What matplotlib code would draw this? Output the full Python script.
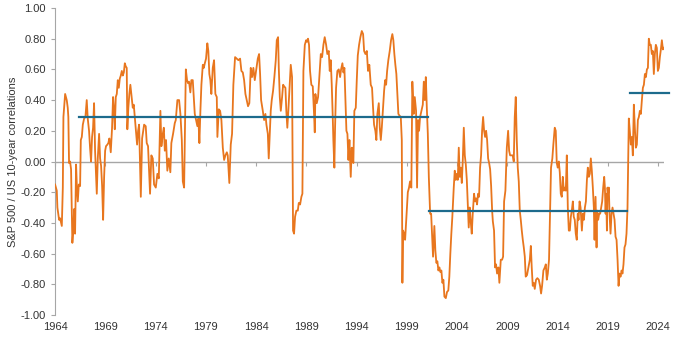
import matplotlib.pyplot as plt
from matplotlib.ticker import FormatStrFormatter

# rolling S&P 500 / US 10-year correlation (decimal year, value)
years = [
    1964.00, 1964.17, 1964.23, 1964.40, 1964.50, 1964.67, 1964.77, 1964.83, 1965.00, 1965.16,
    1965.26, 1965.32, 1965.39, 1965.49, 1965.59, 1965.72, 1965.82, 1965.89, 1965.99, 1966.09,
    1966.16, 1966.26, 1966.36, 1966.49, 1966.56, 1966.66, 1966.76, 1966.89, 1967.02, 1967.15,
    1967.25, 1967.38, 1967.48, 1967.58, 1967.68, 1967.78, 1967.88, 1967.98, 1968.08, 1968.15,
    1968.25, 1968.38, 1968.48, 1968.58, 1968.68, 1968.78, 1968.88, 1968.98, 1969.07, 1969.20,
    1969.30, 1969.40, 1969.54, 1969.67, 1969.77, 1969.87, 1969.94, 1970.04, 1970.14, 1970.24,
    1970.34, 1970.44, 1970.54, 1970.64, 1970.74, 1970.84, 1970.94, 1971.03, 1971.13, 1971.19,
    1971.29, 1971.39, 1971.49, 1971.59, 1971.73, 1971.83, 1971.96, 1972.06, 1972.16, 1972.26,
    1972.36, 1972.53, 1972.66, 1972.86, 1973.02, 1973.12, 1973.25, 1973.45, 1973.58, 1973.72,
    1973.85, 1974.02, 1974.18, 1974.32, 1974.48, 1974.58, 1974.72, 1974.82, 1974.92, 1975.04,
    1975.17, 1975.31, 1975.47, 1975.57, 1975.74, 1975.91, 1976.01, 1976.17, 1976.34, 1976.47,
    1976.61, 1976.71, 1976.84, 1977.01, 1977.13, 1977.23, 1977.33, 1977.46, 1977.56, 1977.70,
    1977.80, 1977.90, 1978.03, 1978.16, 1978.26, 1978.36, 1978.46, 1978.56, 1978.70, 1978.80,
    1978.90, 1979.02, 1979.15, 1979.25, 1979.35, 1979.45, 1979.55, 1979.69, 1979.82, 1979.95,
    1980.09, 1980.15, 1980.29, 1980.42, 1980.55, 1980.69, 1980.82, 1980.95, 1981.09, 1981.18,
    1981.34, 1981.48, 1981.61, 1981.74, 1981.91, 1982.08, 1982.24, 1982.41, 1982.54, 1982.68,
    1982.81, 1982.94, 1983.07, 1983.20, 1983.33, 1983.47, 1983.60, 1983.73, 1983.87, 1984.00,
    1984.17, 1984.30, 1984.40, 1984.50, 1984.67, 1984.80, 1984.93, 1985.03, 1985.17, 1985.26,
    1985.36, 1985.46, 1985.56, 1985.69, 1985.82, 1985.96, 1986.06, 1986.19, 1986.26, 1986.36,
    1986.46, 1986.59, 1986.69, 1986.79, 1986.92, 1987.01, 1987.11, 1987.21, 1987.35, 1987.45,
    1987.58, 1987.68, 1987.78, 1987.88, 1988.01, 1988.15, 1988.25, 1988.38, 1988.51, 1988.61,
    1988.71, 1988.85, 1988.98, 1989.07, 1989.17, 1989.27, 1989.37, 1989.50, 1989.64, 1989.77,
    1989.84, 1989.90, 1990.04, 1990.17, 1990.30, 1990.44, 1990.57, 1990.70, 1990.83, 1990.97,
    1991.09, 1991.23, 1991.33, 1991.43, 1991.53, 1991.63, 1991.69, 1991.79, 1991.86, 1991.96,
    1992.09, 1992.23, 1992.36, 1992.46, 1992.59, 1992.69, 1992.79, 1992.89, 1992.99, 1993.09,
    1993.19, 1993.29, 1993.42, 1993.52, 1993.62, 1993.68, 1993.78, 1993.92, 1994.02, 1994.12,
    1994.25, 1994.38, 1994.52, 1994.65, 1994.75, 1994.88, 1995.02, 1995.14, 1995.27, 1995.41,
    1995.54, 1995.64, 1995.74, 1995.87, 1995.97, 1996.07, 1996.21, 1996.31, 1996.41, 1996.51,
    1996.64, 1996.74, 1996.84, 1996.94, 1997.04, 1997.16, 1997.30, 1997.43, 1997.56, 1997.66,
    1997.76, 1997.86, 1997.96, 1998.06, 1998.16, 1998.26, 1998.40, 1998.50, 1998.56, 1998.63,
    1998.73, 1998.83, 1998.96, 1999.10, 1999.22, 1999.32, 1999.45, 1999.55, 1999.69, 1999.79,
    1999.92, 2000.02, 2000.12, 2000.22, 2000.32, 2000.45, 2000.59, 2000.69, 2000.79, 2000.89,
    2000.99, 2001.09, 2001.19, 2001.32, 2001.42, 2001.51, 2001.61, 2001.74, 2001.84, 2001.94,
    2002.04, 2002.14, 2002.24, 2002.34, 2002.44, 2002.54, 2002.64, 2002.74, 2002.88, 2003.00,
    2003.13, 2003.23, 2003.33, 2003.43, 2003.53, 2003.67, 2003.77, 2003.87, 2003.97, 2004.07,
    2004.17, 2004.27, 2004.37, 2004.47, 2004.57, 2004.67, 2004.77, 2004.87, 2004.97, 2005.06,
    2005.16, 2005.26, 2005.36, 2005.46, 2005.56, 2005.69, 2005.79, 2005.89, 2005.99, 2006.09,
    2006.19, 2006.29, 2006.39, 2006.49, 2006.59, 2006.69, 2006.79, 2006.89, 2006.99, 2007.09,
    2007.19, 2007.29, 2007.39, 2007.49, 2007.56, 2007.68, 2007.78, 2007.88, 2007.98, 2008.11,
    2008.21, 2008.35, 2008.48, 2008.58, 2008.68, 2008.81, 2008.95, 2009.08, 2009.18, 2009.28,
    2009.40, 2009.54, 2009.64, 2009.74, 2009.84, 2009.94, 2010.04, 2010.14, 2010.24, 2010.34,
    2010.44, 2010.54, 2010.64, 2010.74, 2010.83, 2010.96, 2011.10, 2011.24, 2011.34, 2011.43,
    2011.53, 2011.63, 2011.73, 2011.86, 2011.99, 2012.13, 2012.26, 2012.36, 2012.46, 2012.59,
    2012.73, 2012.83, 2012.93, 2013.03, 2013.15, 2013.25, 2013.35, 2013.48, 2013.58, 2013.72,
    2013.82, 2013.92, 2014.02, 2014.12, 2014.22, 2014.32, 2014.42, 2014.52, 2014.62, 2014.72,
    2014.82, 2014.92, 2015.02, 2015.12, 2015.22, 2015.32, 2015.42, 2015.52, 2015.61, 2015.71,
    2015.81, 2015.91, 2016.01, 2016.09, 2016.19, 2016.29, 2016.42, 2016.52, 2016.62, 2016.72,
    2016.82, 2016.92, 2017.01, 2017.11, 2017.21, 2017.31, 2017.41, 2017.51, 2017.61, 2017.68,
    2017.78, 2017.88, 2017.94, 2018.04, 2018.14, 2018.24, 2018.34, 2018.44, 2018.54, 2018.64,
    2018.71, 2018.78, 2018.84, 2018.91, 2018.97, 2019.03, 2019.10, 2019.17, 2019.27, 2019.37,
    2019.47, 2019.57, 2019.67, 2019.77, 2019.87, 2019.97, 2020.07, 2020.17, 2020.27, 2020.37,
    2020.46, 2020.56, 2020.66, 2020.76, 2020.86, 2020.96, 2021.03, 2021.09, 2021.19, 2021.29,
    2021.39, 2021.49, 2021.59, 2021.69, 2021.79, 2021.89, 2021.99, 2022.09, 2022.19, 2022.29,
    2022.39, 2022.49, 2022.59, 2022.69, 2022.79, 2022.89, 2022.99, 2023.08, 2023.18, 2023.28,
    2023.38, 2023.48, 2023.58, 2023.68, 2023.78, 2023.88, 2023.98, 2024.08, 2024.18, 2024.28,
    2024.38, 2024.48, 2024.58,
]
corr = [
    -0.15, -0.19, -0.30, -0.38, -0.37, -0.42, -0.17, 0.29, 0.44, 0.40,
    0.35, 0.29, -0.01, 0.00, -0.05, -0.53, -0.44, -0.31, -0.47, -0.02,
    -0.15, -0.26, -0.15, -0.16, 0.14, 0.16, 0.24, 0.28, 0.29, 0.40,
    0.28, 0.20, 0.09, 0.00, 0.16, 0.22, 0.38, 0.07, -0.10, -0.21,
    0.02, 0.18, 0.02, -0.03, -0.16, -0.38, -0.10, 0.07, 0.10, 0.11,
    0.12, 0.15, 0.06, 0.22, 0.42, 0.33, 0.21, 0.42, 0.44, 0.53,
    0.48, 0.54, 0.56, 0.59, 0.56, 0.58, 0.64, 0.62, 0.61, 0.21,
    0.35, 0.44, 0.50, 0.44, 0.35, 0.37, 0.27, 0.20, 0.11, 0.20,
    0.24, -0.23, 0.15, 0.24, 0.23, 0.12, 0.10, -0.21, 0.04, 0.02,
    -0.15, -0.17, -0.08, -0.11, 0.33, 0.10, 0.18, 0.22, 0.07, 0.14,
    -0.06, 0.02, -0.07, 0.12, 0.18, 0.25, 0.27, 0.40, 0.40, 0.31,
    0.14, -0.13, -0.17, 0.60, 0.53, 0.51, 0.52, 0.45, 0.53, 0.53,
    0.42, 0.31, 0.27, 0.23, 0.28, 0.12, 0.33, 0.50, 0.63, 0.61,
    0.64, 0.67, 0.77, 0.72, 0.57, 0.53, 0.44, 0.61, 0.66, 0.44,
    0.42, 0.16, 0.34, 0.33, 0.27, 0.09, 0.01, 0.04, 0.06, 0.04,
    -0.14, 0.11, 0.18, 0.50, 0.68, 0.67, 0.66, 0.67, 0.59, 0.58,
    0.53, 0.44, 0.40, 0.36, 0.38, 0.61, 0.55, 0.61, 0.53, 0.59,
    0.67, 0.70, 0.57, 0.40, 0.33, 0.27, 0.31, 0.24, 0.18, 0.02,
    0.18, 0.33, 0.40, 0.46, 0.55, 0.66, 0.79, 0.81, 0.61, 0.42,
    0.33, 0.42, 0.50, 0.49, 0.48, 0.33, 0.22, 0.33, 0.50, 0.63,
    0.55, -0.45, -0.47, -0.36, -0.32, -0.32, -0.27, -0.28, -0.23, -0.21,
    0.59, 0.76, 0.79, 0.78, 0.80, 0.76, 0.59, 0.50, 0.49, 0.31,
    0.19, 0.44, 0.38, 0.42, 0.55, 0.70, 0.68, 0.76, 0.81, 0.76,
    0.70, 0.72, 0.59, 0.66, 0.50, 0.29, 0.14, -0.04, 0.22, 0.48,
    0.59, 0.60, 0.55, 0.60, 0.64, 0.58, 0.61, 0.40, 0.20, 0.18,
    0.01, 0.14, -0.10, 0.09, 0.02, -0.01, 0.33, 0.35, 0.53, 0.69,
    0.76, 0.81, 0.85, 0.83, 0.72, 0.70, 0.72, 0.59, 0.63, 0.50,
    0.48, 0.35, 0.24, 0.20, 0.14, 0.31, 0.38, 0.22, 0.14, 0.22,
    0.35, 0.46, 0.53, 0.50, 0.59, 0.66, 0.72, 0.79, 0.83, 0.79,
    0.70, 0.63, 0.57, 0.44, 0.31, 0.30, 0.29, 0.14, -0.79, -0.45,
    -0.47, -0.51, -0.36, -0.20, -0.17, -0.13, -0.17, 0.52, 0.31, 0.42,
    0.33, -0.17, 0.27, 0.20, 0.29, 0.33, 0.37, 0.52, 0.40, 0.55,
    0.35, 0.18, -0.10, -0.34, -0.34, -0.47, -0.62, -0.42, -0.58, -0.66,
    -0.65, -0.71, -0.69, -0.72, -0.71, -0.79, -0.77, -0.88, -0.89, -0.85,
    -0.84, -0.75, -0.60, -0.47, -0.36, -0.17, -0.06, -0.12, -0.08, -0.12,
    0.09, -0.10, -0.04, -0.14, 0.01, 0.22, 0.04, -0.02, -0.12, -0.26,
    -0.43, -0.30, -0.39, -0.47, -0.34, -0.21, -0.26, -0.24, -0.28, -0.21,
    -0.23, -0.04, 0.04, 0.20, 0.29, 0.20, 0.16, 0.20, 0.14, 0.02,
    -0.01, -0.05, -0.16, -0.32, -0.39, -0.45, -0.69, -0.67, -0.73, -0.69,
    -0.79, -0.64, -0.64, -0.62, -0.26, -0.19, 0.09, 0.20, 0.07, 0.04,
    0.04, 0.04, 0.00, 0.29, 0.42, 0.14, -0.04, -0.13, -0.32, -0.38,
    -0.45, -0.51, -0.56, -0.62, -0.75, -0.74, -0.69, -0.64, -0.55, -0.69,
    -0.81, -0.79, -0.83, -0.77, -0.76, -0.77, -0.81, -0.86, -0.81, -0.71,
    -0.69, -0.67, -0.77, -0.73, -0.64, -0.34, -0.04, 0.02, 0.11, 0.22,
    0.20, -0.01, -0.04, 0.00, -0.07, -0.21, -0.23, -0.10, -0.19, -0.17,
    -0.19, 0.04, -0.30, -0.45, -0.45, -0.36, -0.32, -0.26, -0.36, -0.38,
    -0.47, -0.51, -0.34, -0.38, -0.26, -0.30, -0.45, -0.34, -0.38, -0.30,
    -0.26, -0.12, -0.04, -0.10, -0.08, 0.02, -0.06, -0.17, -0.30, -0.51,
    -0.23, -0.56, -0.32, -0.38, -0.34, -0.34, -0.30, -0.26, -0.17, -0.10,
    -0.17, -0.34, -0.21, -0.45, -0.17, -0.21, -0.17, -0.34, -0.47, -0.34,
    -0.30, -0.34, -0.38, -0.49, -0.51, -0.64, -0.81, -0.73, -0.75, -0.71,
    -0.73, -0.67, -0.56, -0.54, -0.47, -0.30, 0.02, 0.28, 0.20, 0.11,
    0.16, 0.04, 0.37, 0.22, 0.09, 0.11, 0.27, 0.29, 0.33, 0.31,
    0.40, 0.48, 0.50, 0.57, 0.55, 0.60, 0.61, 0.80, 0.76, 0.76,
    0.70, 0.72, 0.57, 0.70, 0.76, 0.74, 0.59, 0.61, 0.68, 0.73,
    0.79, 0.73, 0.74,
]

# period averages
regime_start = [1966.42, 2001.18, 2021.25]
regime_end = [2001.08, 2020.95, 2025.05]
regime_mean = [0.287, -0.32, 0.445]

tick_years = list(range(1964, 2025, 5))

plt.rcParams['font.family'] = ['Liberation Sans', 'DejaVu Sans']
plt.rcParams['axes.unicode_minus'] = False

fig = plt.figure(figsize=(6.8, 3.4), dpi=100)
ax = fig.add_axes([0.081, 0.0735, 0.8956, 0.903])

ax.axhline(0, color='#A6A6A6', lw=1.0, zorder=1)
ax.plot(years, corr, color='#E8761E', lw=1.3, zorder=3)
for s, e, m in zip(regime_start, regime_end, regime_mean):
    ax.plot([s, e], [m, m], color='#1D6B8C', lw=1.6, zorder=4, clip_on=False)

ax.set_xlim(1964, 2024.6)
ax.set_ylim(-1.0, 1.0)

# x axis crosses at zero, labels stay at the bottom
for side in ['top', 'right', 'bottom']:
    ax.spines[side].set_visible(False)
ax.spines['left'].set_color('#A6A6A6')
ax.set_xticks(tick_years)
ax.tick_params(axis='x', length=0, pad=5, labelsize=8, labelcolor='#333333')

zero_axis = ax.secondary_xaxis(0.5)
zero_axis.set_xticks(tick_years)
zero_axis.set_xticklabels([])
zero_axis.xaxis.set_ticks_position('bottom')
zero_axis.tick_params(length=3, color='#A6A6A6', direction='out')
for sp in zero_axis.spines.values():
    sp.set_visible(False)

ax.set_yticks([i / 5 - 1 for i in range(11)])
ax.yaxis.set_major_formatter(FormatStrFormatter('%.2f'))
ax.tick_params(axis='y', length=3, color='#A6A6A6', labelsize=8, labelcolor='#333333')
ax.set_ylabel('S&P 500 / US 10-year correlations', fontsize=8, color='#333333', labelpad=2)

fig.savefig('out.png', dpi=100)
